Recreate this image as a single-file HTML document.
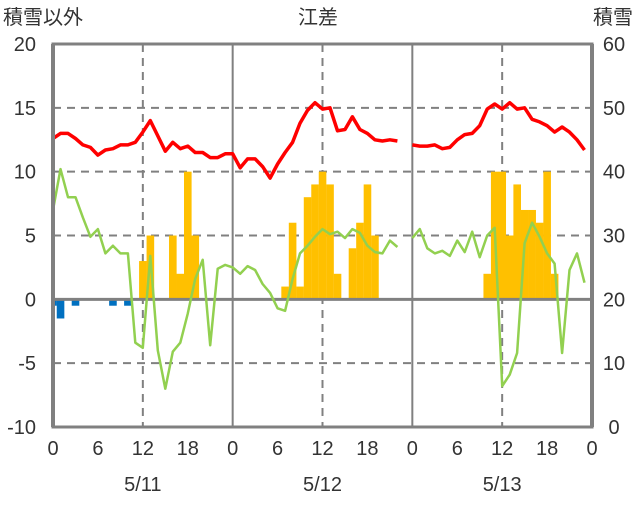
<!DOCTYPE html>
<html><head><meta charset="utf-8"><style>
body{margin:0;background:#fff;width:636px;height:501px;overflow:hidden}
svg text{font-family:"Liberation Sans","Noto Sans CJK JP",sans-serif;font-size:20px;fill:#333}
</style></head><body>
<svg id="c" width="636" height="501" xmlns="http://www.w3.org/2000/svg"></svg>
<script>
const hours=[];for(let i=0;i<72;i++)hours.push(i);
const tempVals=[12.6,13.0,13.0,12.6,12.1,11.9,11.3,11.7,11.8,12.1,12.1,12.3,13.1,14.0,12.8,11.6,12.3,11.8,12.0,11.5,11.5,11.1,11.1,11.4,
11.4,10.3,11.0,11.0,10.4,9.5,10.6,11.5,12.3,13.8,14.8,15.4,14.9,15.0,13.2,13.3,14.3,13.3,13.0,12.5,12.4,12.5,12.4,null,
12.1,12.0,12.0,12.1,11.8,11.9,12.5,12.9,13.0,13.6,14.9,15.3,14.9,15.4,14.9,15.0,14.1,13.9,13.6,13.1,13.5,13.1,12.5,11.7];
const windVals=[7.0,10.2,8.0,8.0,6.4,4.9,5.5,3.6,4.2,3.6,3.6,-3.4,-3.8,3.4,-4.0,-7.0,-4.1,-3.4,-1.1,1.6,3.1,-3.6,2.4,2.7,
2.5,2.0,2.6,2.3,1.2,0.5,-0.7,-0.9,1.6,3.6,4.2,4.9,5.5,5.1,5.3,4.8,5.5,5.2,4.2,3.7,3.6,4.6,4.1,null,
4.8,5.5,4.0,3.6,3.8,3.4,4.6,3.7,5.3,3.3,5.0,5.6,-6.8,-5.9,-4.2,4.4,6.0,4.9,3.6,2.8,-4.2,2.3,3.6,1.3];
const snowHours=[12,13,16,17,18,19,31,32,33,34,35,36,37,38,40,41,42,43,58,59,60,61,62,63,64,65,66,67];
const snowVals=[3,5,5,2,10,5,1,6,1,8,9,10,9,2,4,6,9,5,2,10,10,5,9,7,7,6,10,2];
const precipHours=[0,1,3,8,10];
const precipVals=[-0.5,-1.5,-0.5,-0.5,-0.5];
const leftTicks=[20,15,10,5,0,-5,-10];
const rightTicks=[60,50,40,30,20,10,0];
const xTickHours=[0,6,12,18,24,30,36,42,48,54,60,66,72];
const xTickLabels=["0","6","12","18","0","6","12","18","0","6","12","18","0"];
const dates=["5/11","5/12","5/13"];

const L=53,R=592,T=44,B=427;
const X=h=>L+(R-L)*h/72;
const Y=v=>B-(B-T)*(v+10)/30;
const YR=v=>B-(B-T)*v/60;
const svg=document.getElementById('c');
const NS='http://www.w3.org/2000/svg';
function mk(tag,attrs,name,parent){const e=document.createElementNS(NS,tag);for(const k in attrs)e.setAttribute(k,attrs[k]);


(parent||svg).appendChild(e);return e;}
leftTicks.forEach(v=>{if(v===20||v===-10||v===0)return;
 mk('line',{x1:L,x2:R,y1:Y(v),y2:Y(v),stroke:'#808080','stroke-width':2,'stroke-dasharray':'8,6'},'h-gridline');});
[12,36,60].forEach(h=>mk('line',{x1:X(h),x2:X(h),y1:T,y2:B,stroke:'#808080','stroke-width':2,'stroke-dasharray':'8,6'},'noon-gridline'));
[24,48].forEach(h=>mk('line',{x1:X(h),x2:X(h),y1:T,y2:B,stroke:'#808080','stroke-width':2},'day-divider'));
snowHours.forEach((h,i)=>{const x=X(h)-3.75,y=Y(snowVals[i]);
 mk('rect',{x:x,y:y,width:7.6,height:Y(0)-y,fill:'#ffc000'},'snow-bar');});
precipHours.forEach((h,i)=>{let x=X(h)-3.75,w=7.6;if(x<L){w-=L-x;x=L;}
 mk('rect',{x:x,y:Y(0),width:w,height:Y(precipVals[i])-Y(0),fill:'#0070c0'},'precip-bar');});
mk('line',{x1:L,x2:R,y1:Y(0),y2:Y(0),stroke:'#808080','stroke-width':3},'zero-line');
function line(vals,color,name){let d='',pen=false;vals.forEach((v,i)=>{if(v===null){pen=false;return;}
 d+=(pen?'L':'M')+X(hours[i]).toFixed(1)+','+Y(v).toFixed(1);pen=true;});
 mk('path',{d:d,fill:'none',stroke:color,'stroke-width':color==='#ff0000'?3.5:2.5,'stroke-linejoin':'round'},name);}
line(windVals,'#92d050','wind-line');
line(tempVals,'#ff0000','temperature-line');
mk('rect',{x:L,y:T,width:R-L,height:B-T,fill:'none',stroke:'#808080','stroke-width':3},'plot-frame');
mk('line',{x1:L,x2:L,y1:T,y2:B,stroke:'#808080','stroke-width':4},'left-axis-line');
mk('line',{x1:R,x2:R,y1:T,y2:B,stroke:'#808080','stroke-width':4},'right-axis-line');
leftTicks.forEach(v=>{const t=mk('text',{x:36,y:Y(v)+7,'text-anchor':'end'},'left-tick-label');t.textContent=v;});
rightTicks.forEach(v=>{const t=mk('text',{x:614,y:YR(v)+7,'text-anchor':'middle'},'right-tick-label');t.textContent=v;});
xTickHours.forEach((h,i)=>{const t=mk('text',{x:X(h),y:455,'text-anchor':'middle'},'x-tick-label');t.textContent=xTickLabels[i];});
dates.forEach((d,i)=>{const t=mk('text',{x:X(12+24*i),y:491,'text-anchor':'middle'},'date-label');t.textContent=d;});
let t=mk('text',{x:318,y:24,'text-anchor':'middle'},'chart-title');t.textContent='江差';
t=mk('text',{x:3,y:24},'left-axis-title');t.textContent='積雪以外';
t=mk('text',{x:633,y:24,'text-anchor':'end'},'right-axis-title');t.textContent='積雪';
</script>
</body></html>
